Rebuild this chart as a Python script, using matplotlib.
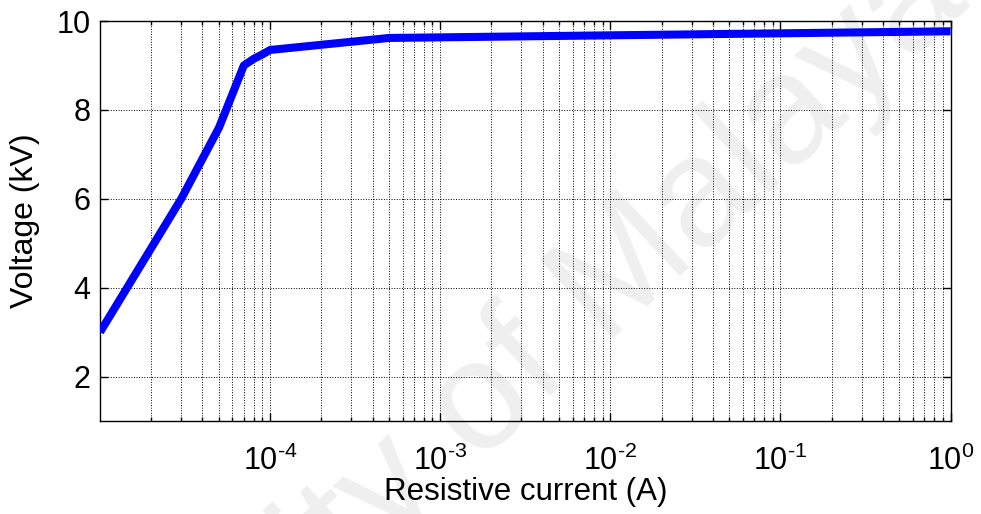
import numpy as np
import matplotlib.pyplot as plt
from matplotlib.ticker import LogLocator, NullFormatter

plt.rcParams['font.family'] = ['Liberation Sans', 'DejaVu Sans']
plt.rcParams['mathtext.fontset'] = 'custom'
plt.rcParams['mathtext.rm'] = 'Liberation Sans'
plt.rcParams['mathtext.it'] = 'Liberation Sans:italic'

# data
current = [1e-5, 3e-5, 5e-5, 7e-5, 8e-5, 9e-5, 1e-4, 5e-4, 1e0]
voltage = [3.0, 6.0, 7.6, 9.0, 9.15, 9.25, 9.35, 9.62, 9.77]

x_ticks = [1e-4, 1e-3, 1e-2, 1e-1, 1e0]
x_exps = ['-4', '-3', '-2', '-1', '0']
x_labels = [r'$\mathregular{10^{\text{%s}}}$' % e for e in x_exps]
y_ticks = [2, 4, 6, 8, 10]

fig = plt.figure(figsize=(9.81, 5.14), dpi=100)
ax = fig.add_axes([0.102, 0.181, 0.867, 0.778])
ax.patch.set_alpha(0)
ax.set_zorder(1)

# faint watermark behind the plot
fig.text(0.99, 0.99, 'University of Malaya', fontsize=112, color='#efefef',
         rotation=43, rotation_mode='anchor', ha='right', va='baseline', zorder=0)

ax.plot(current, voltage, color='#0000ff', lw=5.8, solid_capstyle='butt', zorder=3)

ax.set_xscale('log')
ax.set_xlim(1e-5, 1)
ax.set_ylim(1, 10)
ax.set_xticks(x_ticks)
ax.set_xticklabels(x_labels)
ax.xaxis.set_minor_locator(LogLocator(base=10, subs=np.arange(2, 10)))
ax.xaxis.set_minor_formatter(NullFormatter())
ax.set_yticks(y_ticks)

ax.grid(True, which='major', axis='both', color='black', ls=':', lw=0.7)
ax.grid(True, which='minor', axis='x', color='black', ls=':', lw=0.7)

ax.tick_params(which='both', direction='in', top=True, right=True, width=1, labelsize=22)
ax.tick_params(which='major', length=6)
ax.tick_params(which='minor', length=3)
ax.tick_params(axis='x', pad=18)
ax.tick_params(axis='y', pad=7)
for s in ax.spines.values():
    s.set_linewidth(1)

ax.set_xlabel('Resistive current (A)', fontsize=22.5, labelpad=0)
ax.set_ylabel('Voltage (kV)', fontsize=23, labelpad=12)

plt.savefig('out.png', dpi=100)
